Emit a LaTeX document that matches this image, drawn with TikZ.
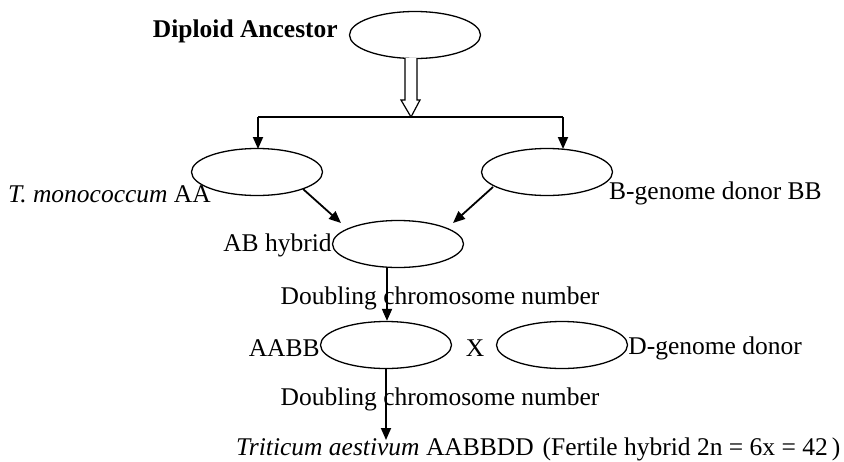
\documentclass[tikz,border=0pt]{standalone}
\usepackage{fontspec}
\setmainfont{Liberation Serif}
\usetikzlibrary{shapes.geometric,arrows.meta}
\begin{document}
\begin{tikzpicture}[x=1pt,y=-1pt,
  cell/.style={ellipse,draw,line width=1.3pt,minimum width=131pt,minimum height=47pt,inner sep=0pt},
  lbl/.style={inner sep=0pt,font=\fontsize{25.5}{29}\selectfont},
  arr/.style={line width=1.8pt,-{Triangle[length=12pt,width=10pt]}}]
\useasboundingbox (0,0) rectangle (844,461);
% cells
\node[cell] (anc) at (415,35) {};
\node[cell] (mono) at (257,172) {};
\node[cell] (bdon) at (547,172) {};
\node[cell] (ab) at (398,244) {};
\node[cell] (aabb) at (386,345) {};
\node[cell] (ddon) at (562,345) {};
% labels
\node[lbl,font=\fontsize{25.5}{29}\selectfont\bfseries,anchor=east] (tanc) at (338,31) {Diploid Ancestor};
\node[lbl,anchor=east] (tmono) at (211,194) {\textit{T. monococcum} AA};
\node[lbl,anchor=west] (tbdon) at (609,193) {B-genome donor BB};
\node[lbl,anchor=east] (tab) at ([yshift=-1pt]ab.west) {AB hybrid};
\node[lbl] (dbl1) at (440,298) {Doubling chromosome number};
\node[lbl,anchor=east] (taabb) at ([yshift=-3pt]aabb.west) {AABB};
\node[lbl] (cross) at (475,348) {X};
\node[lbl,anchor=west] (tddon) at ([yshift=-3pt]ddon.east) {D-genome donor};
\node[lbl] (dbl2) at (440,399) {Doubling chromosome number};
\node[lbl,anchor=west] (wheat) at (236,449) {\textit{Triticum aestivum} AABBDD\hspace{9pt}(Fertile hybrid 2n = 6x = 42\hspace{4pt})};
% hollow arrow from the ancestor to the branch line
\coordinate (split) at (411,117);
\draw[line width=1.2pt,fill=white] (405,58) -- (405,100) -- (401,100) -- (split) -- (420,100) -- (417,100) -- (417,58);
% branch line and arrows to both parents
\coordinate (bl) at (258,117);
\coordinate (br) at (563,117);
\draw[line width=1.8pt] (bl) -- (br);
\draw[arr] (bl) -- (258,149);
\draw[arr] (br) -- (563,149);
% crosses into the hybrid
\draw[arr] (303,189) -- (341,223);
\draw[arr] (493,187) -- (453,223);
% doubling steps
\draw[arr] (387,268) -- (aabb.north -| 387,0);
\coordinate (wtop) at (386,440);
\draw[arr] (aabb.south) -- (wtop);
\end{tikzpicture}
\end{document}
